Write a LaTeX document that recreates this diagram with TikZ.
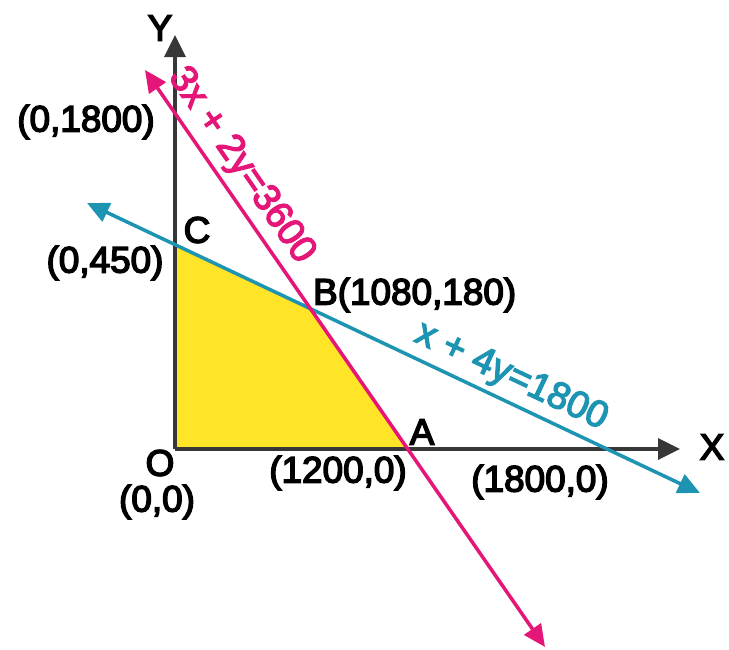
\documentclass[tikz,border=0pt]{standalone}
\usepackage{fontspec}
\setmainfont{Liberation Sans}
\newfontfamily\medfont{Liberation Sans}[FakeBold=4]
\newfontfamily\eqnfont{Liberation Sans}[FakeBold=3.5]
\usetikzlibrary{arrows.meta,positioning}
\definecolor{lpink}{RGB}{228,22,120}
\definecolor{lblue}{RGB}{28,148,178}
\definecolor{region}{RGB}{255,228,40}
\definecolor{axisgray}{RGB}{55,55,55}
\tikzset{
  axis/.style  = {-{Triangle[length=4.4mm,width=4.2mm]}, line width=2pt, axisgray},
  bound/.style = {{Triangle[length=4.4mm,width=4mm]}-{Triangle[length=4.4mm,width=4mm]},
                  line width=2pt},
  lbl/.style   = {font=\fontsize{21}{25}\medfont, inner sep=1pt},
  eqn/.style   = {font=\fontsize{21.5}{25}\eqnfont, sloped, inner sep=3pt},
}

\begin{document}
\begin{tikzpicture}[x=1cm,y=1cm]
  \useasboundingbox (-3.5,-4.0) rectangle (11.08,8.98);
  \coordinate (O) at (0,0);
  \coordinate (xtip) at (10.1,0);
  \coordinate (ytip) at (0,8.28);
  \coordinate (p1) at (-0.6,7.58);
  \coordinate (p2) at (7.4,-3.96);
  \coordinate (q1) at (-1.76,4.92);
  \coordinate (q2) at (10.5,-0.88);
  \coordinate (A) at (4.65,0);
  \coordinate (B) at (2.71,2.80);
  \coordinate (C) at (0,4.09);
  % feasible region
  \fill[region] (O) -- (A) -- (B) -- (C) -- cycle;
  \draw[axis] (O) -- (xtip);
  \draw[axis] (O) -- (ytip);
  \draw[bound,lblue] (q1) -- (q2) node[eqn,above,pos=0.675] {x + 4y=1800};
  \draw[bound,lpink] (p1) -- (p2) node[eqn,above,pos=0.19] {3x + 2y=3600};
  % labels
  \node[lbl] (lY) at (-0.3,8.42) {Y};
  \node[lbl] (lX) at (10.74,0.04) {X};
  \node[lbl] (lO) at (-0.3,-0.28) {O};
  \node[lbl] (lA) at (4.94,0.34) {A};
  \node[lbl] (lC) at (0.44,4.38) {C};
  \node[lbl,anchor=west] (lB) at (2.72,3.08) {B(1080,180)};
  \node[lbl] (p0) at (-0.36,-1.06) {(0,0)};
  \node[lbl] (pA) at (3.26,-0.48) {(1200,0)};
  \node[lbl] (pX) at (7.3,-0.66) {(1800,0)};
  \node[lbl] (pC) at (-1.4,3.72) {(0,450)};
  \node[lbl] (pY) at (-1.78,6.54) {(0,1800)};
\end{tikzpicture}
\end{document}
